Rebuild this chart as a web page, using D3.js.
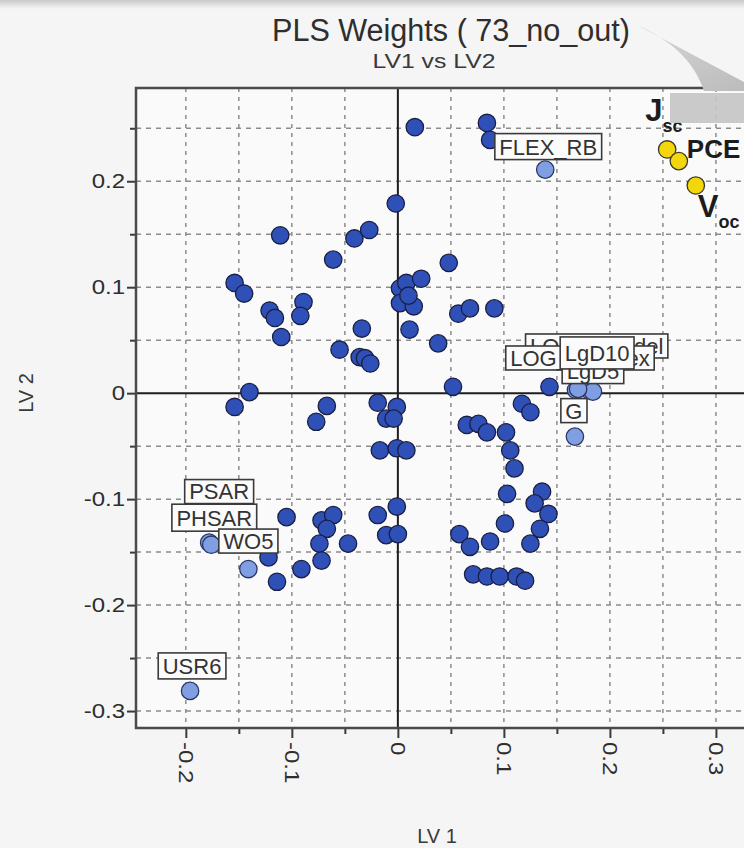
<!DOCTYPE html>
<html>
<head>
<meta charset="utf-8">
<script src="https://cdn.jsdelivr.net/npm/d3@7"></script>
<style>
  html, body { margin: 0; padding: 0; background: #f5f5f5; }
  svg { display: block; font-family: "Liberation Sans", Arial, Helvetica, sans-serif; }
</style>
</head>
<body>
<svg id="chart" width="744" height="848"></svg>
<script>
// PLS weights of the X-block descriptors on the first two latent variables
const weightLV1 = [
  0.016, 0.084, 0.087, -0.002, -0.111, -0.041, -0.027, -0.061, -0.154, -0.145,
  -0.089, -0.092, -0.121, -0.116, -0.110, -0.034, -0.055, -0.036, -0.031, -0.026,
  0.002, 0.008, 0.022, 0.002, 0.015, 0.011, 0.048, 0.057, 0.068, 0.091,
  0.038, 0.052, 0.143, -0.140, -0.154, -0.067, -0.077, -0.019, -0.001, -0.011,
  -0.004, -0.017, -0.001, 0.008, 0.117, 0.125, 0.065, 0.076, 0.084, 0.102,
  0.106, 0.110, 0.103, 0.136, 0.129, 0.142, 0.134, 0.125, 0.101, 0.058,
  0.068, 0.087, 0.071, 0.084, 0.096, 0.112, 0.120, -0.105, -0.072, -0.061,
  -0.067, -0.074, -0.072, -0.047, -0.091, -0.114, -0.122, -0.019, -0.001, -0.011,
  0.000, 0.010
];
const weightLV2 = [
  0.251, 0.255, 0.239, 0.179, 0.149, 0.146, 0.154, 0.126, 0.104, 0.094,
  0.086, 0.073, 0.078, 0.071, 0.053, 0.061, 0.041, 0.034, 0.033, 0.028,
  0.099, 0.104, 0.108, 0.085, 0.082, 0.060, 0.123, 0.075, 0.080, 0.080,
  0.047, 0.006, 0.006, 0.001, -0.013, -0.012, -0.027, -0.009, -0.013, -0.024,
  -0.024, -0.054, -0.052, -0.054, -0.010, -0.018, -0.030, -0.029, -0.037, -0.037,
  -0.054, -0.071, -0.095, -0.093, -0.104, -0.114, -0.128, -0.142, -0.123, -0.133,
  -0.145, -0.140, -0.171, -0.173, -0.173, -0.173, -0.177, -0.117, -0.120, -0.115,
  -0.128, -0.142, -0.158, -0.142, -0.166, -0.178, -0.155, -0.115, -0.107, -0.134,
  -0.133, 0.092
];

// Descriptors picked out with a name tag
const tagNames = ["FLEX_RB", "LOGP_Model", "LOG_S_Index", "LgD5", "LgD10", "G", "PSAR", "PHSAR", "WO5", "USR6"];
const tagLV1 = [0.139, 0.180, 0.168, 0.184, 0.170, 0.167, -0.178, -0.176, -0.141, -0.196];
const tagLV2 = [0.211, 0.003, 0.003, 0.0015, 0.004, -0.041, -0.141, -0.143, -0.166, -0.281];

// Y-block responses
const responseNames = [["J", "sc"], ["PCE", ""], ["V", "oc"]];
const responseLV1 = [0.254, 0.265, 0.281];
const responseLV2 = [0.230, 0.219, 0.196];

const xMajorTicks = [-0.2, -0.1, 0, 0.1, 0.2, 0.3];
const yMajorTicks = [-0.3, -0.2, -0.1, 0, 0.1, 0.2];
const xMinorTicks = [-0.15, -0.05, 0.05, 0.15, 0.25];
const yMinorTicks = [-0.25, -0.15, -0.05, 0.05, 0.15, 0.25];
const xGrid = [-0.2, -0.15, -0.1, -0.05, 0.05, 0.1, 0.15, 0.2, 0.25, 0.3];
const yGrid = [-0.3, -0.25, -0.2, -0.15, -0.1, -0.05, 0.05, 0.1, 0.15, 0.2, 0.25];

// Tag box placement relative to its point (pixels, box centre) and box height
const tagOffsets = [[3, -23], [8, -44], [4, -32], [0, -20], [19, -36], [-1, -26], [10, -51], [3, -27], [0, -28], [2, -25]];
const tagHeights = [26, 24, 24, 24, 32, 24, 24, 27, 24, 26];
// Text anchor placement of response names relative to their point
const responseOffsets = [[-22, -28], [8, -3], [2, 32]];

const svg = d3.select("#chart");
const W = 744, H = 848;
const frame = { left: 136, top: 88, right: 770, bottom: 728 };

const x = d3.scaleLinear().domain([-0.247, 0.351]).range([frame.left, frame.right]);
const y = d3.scaleLinear().domain([-0.316, 0.288]).range([frame.bottom, frame.top]);

// page background and top band
svg.append("rect").attr("width", W).attr("height", H).attr("fill", "#f5f5f5");
const defs = svg.append("defs");
const band = defs.append("linearGradient").attr("id", "band").attr("x1", 0).attr("y1", 0).attr("x2", 0).attr("y2", 1);
band.append("stop").attr("offset", "0%").attr("stop-color", "#c9c9c9");
band.append("stop").attr("offset", "100%").attr("stop-color", "#f5f5f5");
svg.append("rect").attr("x", 0).attr("y", 0).attr("width", W).attr("height", 9).attr("fill", "url(#band)");

defs.append("clipPath").attr("id", "plotClip").append("rect")
  .attr("x", frame.left).attr("y", frame.top)
  .attr("width", frame.right - frame.left).attr("height", frame.bottom - frame.top);

// plot area
svg.append("rect")
  .attr("x", frame.left).attr("y", frame.top)
  .attr("width", frame.right - frame.left).attr("height", frame.bottom - frame.top)
  .attr("fill", "#fafafa");

const plot = svg.append("g").attr("clip-path", "url(#plotClip)");

// dashed grid
plot.append("g").selectAll("line").data(xGrid).join("line")
  .attr("x1", d => x(d)).attr("x2", d => x(d))
  .attr("y1", frame.top).attr("y2", frame.bottom)
  .attr("stroke", "#8c8c8c").attr("stroke-width", 1.5).attr("stroke-dasharray", "4,5");
plot.append("g").selectAll("line").data(yGrid).join("line")
  .attr("y1", d => y(d)).attr("y2", d => y(d))
  .attr("x1", frame.left).attr("x2", frame.right)
  .attr("stroke", "#8c8c8c").attr("stroke-width", 1.5).attr("stroke-dasharray", "5,5");

// zero lines
plot.append("line").attr("x1", x(0)).attr("x2", x(0)).attr("y1", frame.top).attr("y2", frame.bottom)
  .attr("stroke", "#1e1e1e").attr("stroke-width", 2);
plot.append("line").attr("y1", y(0)).attr("y2", y(0)).attr("x1", frame.left).attr("x2", frame.right)
  .attr("stroke", "#1e1e1e").attr("stroke-width", 2);

// axes
function stretch(sel, k) {
  sel.each(function () {
    const len = this.getComputedTextLength();
    d3.select(this).attr("textLength", len * k).attr("lengthAdjust", "spacingAndGlyphs");
  });
}
const fmt = v => (v === 0 ? "0" : String(v));

const yAxis = svg.append("g").attr("transform", `translate(${frame.left},0)`)
  .call(d3.axisLeft(y).tickValues(yMajorTicks).tickSize(9).tickPadding(2).tickFormat(fmt));
yAxis.append("g").call(d3.axisLeft(y).tickValues(yMinorTicks).tickSize(6).tickFormat(""));
const xAxis = svg.append("g").attr("transform", `translate(0,${frame.bottom})`)
  .call(d3.axisBottom(x).tickValues(xMajorTicks).tickSize(10).tickFormat(fmt));
xAxis.append("g").call(d3.axisBottom(x).tickValues(xMinorTicks).tickSize(6).tickFormat(""));
[yAxis, xAxis].forEach(a => {
  a.selectAll(".domain").remove();
  a.selectAll(".tick line").attr("stroke", "#3a3a3a").attr("stroke-width", 2);
  a.selectAll(".tick text").attr("fill", "#2e2e2e").style("font-size", "20px")
    .style("font-family", "Liberation Sans, Arial, sans-serif");
});
xAxis.selectAll(".tick text")
  .attr("transform", "rotate(90)").attr("x", 14).attr("y", 0).attr("dy", "0.36em")
  .style("text-anchor", "start");
stretch(yAxis.selectAll(".tick text"), 1.2);
stretch(xAxis.selectAll(".tick text"), 1.2);

// frame
svg.append("rect")
  .attr("x", frame.left).attr("y", frame.top)
  .attr("width", frame.right - frame.left).attr("height", frame.bottom - frame.top)
  .attr("fill", "none").attr("stroke", "#4a4a4a").attr("stroke-width", 2.5);

// descriptor points
const predictors = weightLV1.map((v, i) => ({ lv1: v, lv2: weightLV2[i] }));
plot.append("g").selectAll("circle").data(predictors).join("circle")
  .attr("cx", d => x(d.lv1)).attr("cy", d => y(d.lv2)).attr("r", 8.7)
  .attr("fill", "#2f50b6").attr("stroke", "#1a1f45").attr("stroke-width", 1.3);

const tags = tagNames.map((n, i) => ({ name: n, lv1: tagLV1[i], lv2: tagLV2[i], off: tagOffsets[i], h: tagHeights[i] }));
plot.append("g").selectAll("circle").data(tags).join("circle")
  .attr("cx", d => x(d.lv1)).attr("cy", d => y(d.lv2)).attr("r", 8.7)
  .attr("fill", "#7f9fe2").attr("stroke", "#2b3566").attr("stroke-width", 1.3);

// name tags
const tagG = svg.append("g");
tags.forEach(d => {
  const cx = x(d.lv1) + d.off[0], cy = y(d.lv2) + d.off[1];
  const g = tagG.append("g");
  const rect = g.append("rect");
  const t = g.append("text").attr("x", cx).attr("y", cy).attr("dy", "0.36em")
    .attr("text-anchor", "middle").attr("fill", "#333")
    .style("font-size", "22px").text(d.name);
  const w = t.node().getComputedTextLength() + 9;
  rect.attr("x", cx - w / 2).attr("y", cy - d.h / 2).attr("width", w).attr("height", d.h)
    .attr("fill", "#fbfbfb").attr("stroke", "#3a3a3a").attr("stroke-width", 1.6);
});

// responses
const responses = responseNames.map((n, i) => ({ name: n, lv1: responseLV1[i], lv2: responseLV2[i], off: responseOffsets[i] }));
svg.append("g").selectAll("circle").data(responses).join("circle")
  .attr("cx", d => x(d.lv1)).attr("cy", d => y(d.lv2)).attr("r", 8.7)
  .attr("fill", "#f4d60c").attr("stroke", "#3a3a2a").attr("stroke-width", 1.3);
const respText = svg.append("g").selectAll("text").data(responses).join("text")
  .attr("x", d => x(d.lv1) + d.off[0]).attr("y", d => y(d.lv2) + d.off[1])
  .attr("fill", "#1c1c1c").style("font-weight", "bold");
respText.append("tspan").style("font-size", d => (d.name[1] ? "31px" : "26px")).text(d => d.name[0]);
respText.filter(d => d.name[1]).append("tspan")
  .attr("dy", 11).style("font-size", "18px").text(d => d.name[1]);

// curled page corner
const curl = defs.append("linearGradient").attr("id", "curl").attr("x1", 0).attr("y1", 0).attr("x2", 1).attr("y2", 1);
curl.append("stop").attr("offset", "0%").attr("stop-color", "#d6d6d6");
curl.append("stop").attr("offset", "100%").attr("stop-color", "#bcbcbc");
svg.append("path")
  .attr("d", "M637,25 L744,82 L744,91 L704,91 C694,60 670,40 637,25 Z")
  .attr("fill", "url(#curl)");
svg.append("rect").attr("x", 670).attr("y", 93).attr("width", 74).attr("height", 30)
  .attr("fill", "#c6c6c6").attr("opacity", 0.92);

// titles
svg.append("text").attr("x", 451).attr("y", 41).attr("text-anchor", "middle")
  .attr("fill", "#2e2e2e").style("font-size", "31px")
  .attr("textLength", 358).attr("lengthAdjust", "spacingAndGlyphs")
  .text("PLS Weights ( 73_no_out)");
svg.append("text").attr("x", 434).attr("y", 68).attr("text-anchor", "middle")
  .attr("fill", "#3a3a3a").style("font-size", "20px")
  .attr("textLength", 123).attr("lengthAdjust", "spacingAndGlyphs")
  .text("LV1 vs LV2");
svg.append("text").attr("x", 437).attr("y", 843).attr("text-anchor", "middle")
  .attr("fill", "#3a3a3a").style("font-size", "20px").text("LV 1");
svg.append("text").attr("transform", "translate(33,393) rotate(-90)").attr("text-anchor", "middle")
  .attr("fill", "#3a3a3a").style("font-size", "20px").text("LV 2");
</script>
</body>
</html>
